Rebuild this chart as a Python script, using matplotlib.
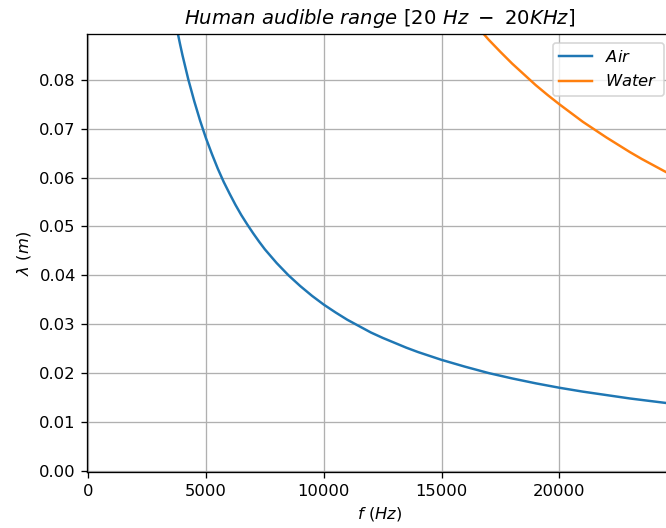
import numpy as np
import matplotlib
matplotlib.use("Agg")
import matplotlib.pyplot as plt

# wavelength, air
air_f = [3800, 3900, 4000, 4250, 4500, 4750, 5000, 5250, 5500, 5750, 6000, 6250,
         6500, 6750, 7000, 7250, 7500, 7750, 8000, 8500, 9000, 9500, 10000, 10500,
         11000, 11500, 12000, 12500, 13000, 13500, 14000, 15000, 16000, 17000,
         18000, 19000, 20000, 21000, 22000, 23000, 24000, 25000]
air_lam = [0.0895, 0.0872, 0.0850, 0.0800, 0.0756, 0.0716, 0.0680, 0.0648, 0.0618,
           0.0591, 0.0567, 0.0544, 0.0523, 0.0504, 0.0486, 0.0469, 0.0453, 0.0439,
           0.0425, 0.0400, 0.0378, 0.0358, 0.0340, 0.0324, 0.0309, 0.0296, 0.0283,
           0.0272, 0.0262, 0.0252, 0.0243, 0.0227, 0.0213, 0.0200, 0.0189, 0.0179,
           0.0170, 0.0162, 0.0155, 0.0148, 0.0142, 0.0136]

# wavelength, water
water_f = [16800, 17000, 17500, 18000, 18500, 19000, 19500, 20000, 20500, 21000,
           21500, 22000, 22500, 23000, 23500, 24000, 24500, 25000]
water_lam = [0.0893, 0.0882, 0.0857, 0.0833, 0.0811, 0.0789, 0.0769, 0.0750, 0.0732,
             0.0714, 0.0698, 0.0682, 0.0667, 0.0652, 0.0638, 0.0625, 0.0612, 0.0600]

# original looks like a default figure saved at ~118 dpi, then cropped
dpi = 118
fig = plt.figure(figsize=(666 / dpi, 528 / dpi), dpi=dpi)
# axes run a bit past the right edge, like the cropped original
ax = fig.add_axes([0.1311, 0.1055, 1.009 - 0.1311, 0.935 - 0.1055])

ax.plot(air_f, air_lam, label=r'$Air$')
ax.plot(water_f, water_lam, label=r'$Water$')

ax.set_xlim(-42, 24785)
ax.set_ylim(-0.0003, 0.0893)
ax.set_yticks(np.arange(0, 0.081, 0.01))
ax.grid(True)

ax.set_title(r'$Human\ audible\ range\ [20\ Hz\ -\ 20KHz]$')
ax.set_xlabel(r'$f\ (Hz)$')
ax.set_ylabel(r'$\lambda\ (m)$')
ax.legend(loc='upper right')

fig.savefig('out.png', dpi=dpi)
